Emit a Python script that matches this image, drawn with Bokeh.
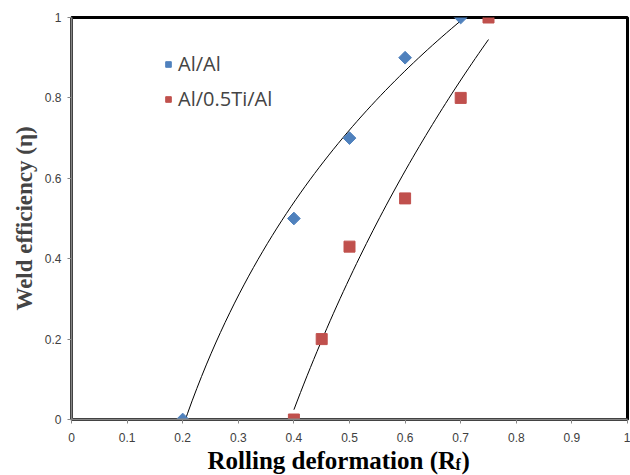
import numpy as np
from bokeh.plotting import figure
from bokeh.layouts import column
from bokeh.models import Range1d, FixedTicker, Legend, LegendItem
from bokeh.core.properties import value
from bokeh.embed import file_html
from bokeh.resources import INLINE

# data
alal_x = [0.2, 0.4, 0.5, 0.6, 0.7]
alal_y = [0.0, 0.5, 0.7, 0.9, 1.0]
alti_x = [0.4, 0.45, 0.5, 0.6, 0.7, 0.75]
alti_y = [0.0, 0.2, 0.43, 0.55, 0.8, 1.0]
x_ticks = [0, 0.1, 0.2, 0.3, 0.4, 0.5, 0.6, 0.7, 0.8, 0.9, 1]
x_tick_labels = ["0", "0.1", "0.2", "0.3", "0.4", "0.5", "0.6", "0.7", "0.8", "0.9", "1"]
y_ticks = [0, 0.2, 0.4, 0.6, 0.8, 1]
y_tick_labels = ["0", "0.2", "0.4", "0.6", "0.8", "1"]
x_title = ["Rolling deformation (R", "f", ")"]

p = figure(width=630, height=450, output_backend="svg", toolbar_location=None,
           x_range=Range1d(0, 1), y_range=Range1d(0, 1),
           min_border_left=71, min_border_right=3, min_border_top=17, min_border_bottom=31)
p.grid.visible = False
p.outline_line_color = "black"
p.outline_line_width = 3
p.background_fill_color = "white"

for ax, ticks, labels in ((p.xaxis[0], x_ticks, x_tick_labels), (p.yaxis[0], y_ticks, y_tick_labels)):
    ax.ticker = FixedTicker(ticks=ticks)
    ax.major_label_overrides = {t: l for t, l in zip(ticks, labels)}
    ax.minor_tick_line_color = None
    ax.axis_line_color = "#868686"
    ax.axis_line_width = 2
    ax.major_tick_line_color = "#868686"
    ax.major_tick_in = 0
    ax.major_tick_out = 4
    ax.major_label_text_font = "Liberation Sans"
    ax.major_label_text_font_size = "12px"
    ax.major_label_text_color = "#404040"
p.xaxis.major_label_standoff = 9
p.yaxis.major_label_standoff = 6

p.yaxis.axis_label = "Weld efficiency (η)"
p.yaxis.axis_label_text_font = "Liberation Serif"
p.yaxis.axis_label_text_font_style = "bold"
p.yaxis.axis_label_text_font_size = "23px"
p.yaxis.axis_label_standoff = 5

# logarithmic trendlines fitted from the data
def log_fit(xs, ys):
    a, b = np.polyfit(np.log(xs), ys, 1)
    xx = np.linspace(min(xs), max(xs), 60)
    return xx, a * np.log(xx) + b

tx1, ty1 = log_fit(alal_x, alal_y)
tx2, ty2 = log_fit(alti_x, alti_y)
p.line(tx1, ty1, line_color="black", line_width=1)
p.line(tx2, ty2, line_color="black", line_width=1)

r1 = p.scatter(alal_x, alal_y, marker="square", angle=np.pi / 4, size=9,
               fill_color="#4F81BD", line_color="#4F81BD")
r2 = p.scatter(alti_x, alti_y, marker="square", size=11, fill_color="#C0504D", line_color="#C0504D")

legend = Legend(items=[LegendItem(label="Al/Al", renderers=[r1]),
                       LegendItem(label="Al/0.5Ti/Al", renderers=[r2])],
                location=(90, 307), border_line_color=None, background_fill_alpha=0,
                label_text_font="Open Sans", label_text_font_size="20px",
                glyph_width=14, glyph_height=22, label_height=22, spacing=8,
                padding=0, margin=0, label_standoff=3)
p.add_layout(legend)

# x-axis title strip (with subscript); its frame is aligned with the plot frame (71..627 px)
q = figure(width=630, height=25, output_backend="svg", toolbar_location=None,
           x_range=Range1d(71, 627), y_range=Range1d(0, 25),
           x_axis_location=None, y_axis_location=None,
           min_border_left=0, min_border_right=0, min_border_top=0, min_border_bottom=0)
q.grid.visible = False
q.outline_line_color = None
q.text(x=[207], y=[15], text=[x_title[0]], text_font=value("Liberation Serif"),
       text_font_style="bold", text_font_size="25px", text_baseline="alphabetic",
       text_color="black")
q.text(x=[455], y=[11], text=[x_title[1]], text_font=value("Liberation Serif"),
       text_font_style="bold", text_font_size="16px", text_baseline="alphabetic",
       text_color="black")
q.text(x=[461], y=[15], text=[x_title[2]], text_font=value("Liberation Serif"),
       text_font_style="bold", text_font_size="25px", text_baseline="alphabetic",
       text_color="black")

open("out.html", "w").write(file_html(column(p, q, spacing=0), INLINE))
